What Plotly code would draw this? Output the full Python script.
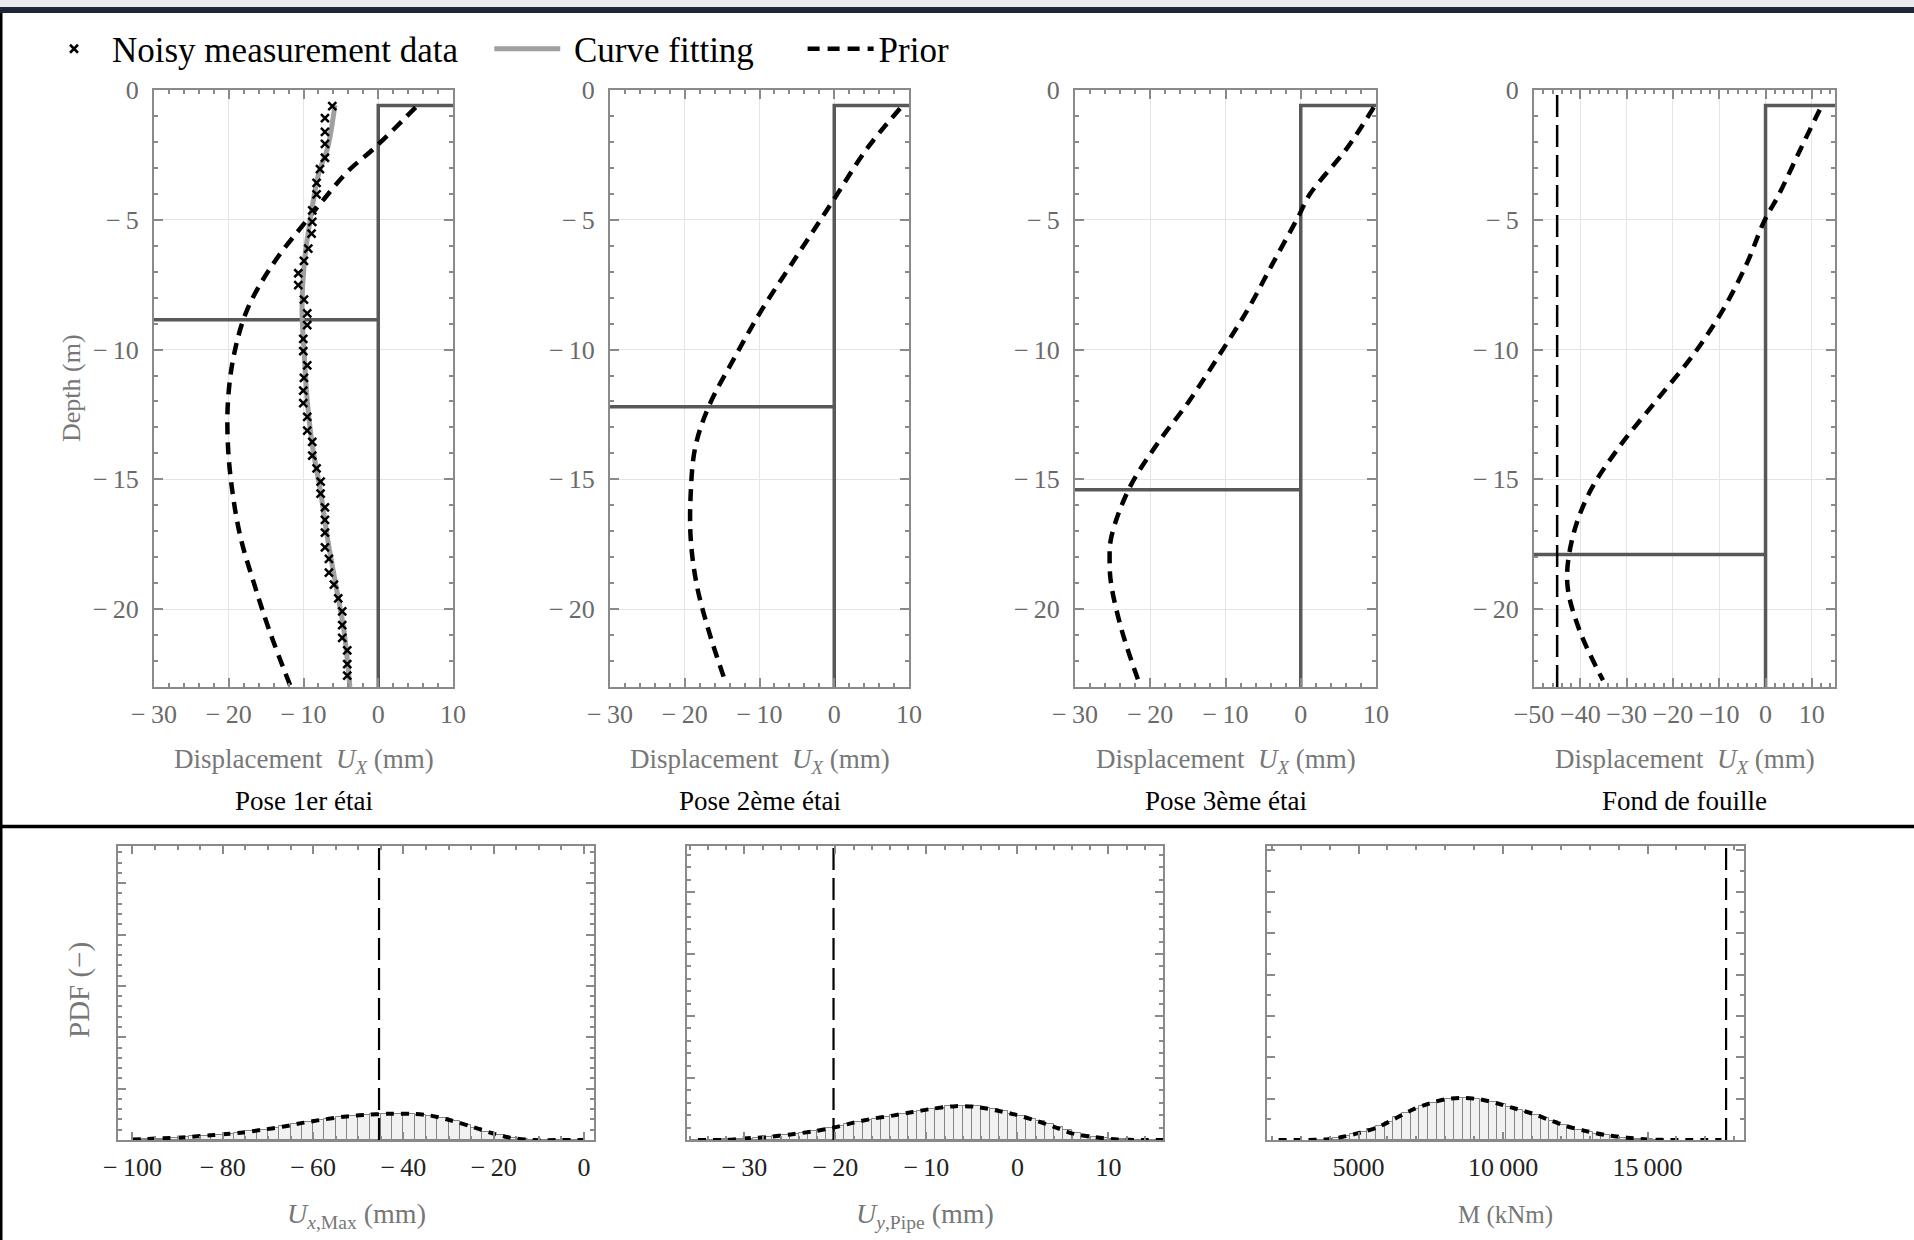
import plotly.graph_objects as go

W, H = 1914, 1240
FONT = "Liberation Serif"
TS = "\u2009"  # thin space between the minus sign and the digits (LaTeX style)
NB = "\u00a0"

# ---------------- data : top row (wall displacement profiles) ----------------
panel_titles = ["Pose 1er étai", "Pose 2ème étai", "Pose 3ème étai", "Fond de fouille"]
x_ranges = [[-30, 10], [-30, 10], [-30, 10], [-50, 15]]
depth_range = [-23, 0]
x_tickvals_top = [[-30, -20, -10, 0, 10], [-30, -20, -10, 0, 10],
                  [-30, -20, -10, 0, 10], [-50, -40, -30, -20, -10, 0, 10]]
x_ticktext_top = [["−" + TS + "30", "−" + TS + "20", "−" + TS + "10", "0", "10"]] * 3 + \
                 [["−50", "−40", "−30", "−20", "−10", "0", "10"]]
depth_tickvals = [0, -5, -10, -15, -20]
depth_ticktext = ["0", "−" + TS + "5", "−" + TS + "10", "−" + TS + "15", "−" + TS + "20"]
wall_top = -0.6
wall_bottom = -23.0
strut_depths = [-8.85, -12.2, -15.4, -17.9]
limit_top4 = -45.0

meas_ux = [-6.15, -7.13, -7.13, -7.13, -7.13, -7.80, -8.25, -8.25, -8.83, -8.83,
           -8.92, -9.36, -9.94, -10.70, -10.70, -9.94, -9.50, -9.50, -10.03, -10.03,
           -9.50, -9.94, -10.03, -10.03, -9.50, -9.50, -8.83, -8.83, -8.25, -7.71,
           -7.71, -7.13, -7.13, -7.13, -7.13, -6.60, -6.60, -5.93, -5.35, -4.82,
           -4.82, -4.82, -4.15, -4.15, -4.15]
meas_z = [-0.62, -1.08, -1.61, -2.08, -2.61, -3.05, -3.58, -4.02, -4.64, -5.08,
          -5.53, -6.11, -6.58, -7.06, -7.52, -8.08, -8.61, -9.06, -9.59, -10.06,
          -10.61, -11.09, -11.58, -12.06, -12.59, -13.12, -13.56, -14.09, -14.58, -15.09,
          -15.55, -16.08, -16.56, -17.05, -17.62, -18.06, -18.59, -19.06, -19.59, -20.09,
          -20.62, -21.11, -21.59, -22.12, -22.56]

fit1_ux = [-5.8, -6.8, -7.9, -9.05, -9.9, -10.2, -9.9, -9.5, -8.8, -7.7, -6.8, -5.7, -4.6, -3.8]
fit1_z = [-0.58, -2.26, -3.14, -4.9, -6.67, -8.44, -10.2, -11.97, -13.73, -15.5, -17.26, -19.03, -20.8, -23.0]

prior1_ux = [5.0, -0.6, -4.1, -7.5, -9.5, -14.0, -17.5, -19.3, -20.1, -20.1, -19.5, -18.4, -16.6, -14.6, -11.7]
prior1_z = [-0.67, -2.26, -3.14, -4.29, -5.0, -6.67, -8.44, -10.2, -11.97, -13.73, -15.5, -17.26, -19.03, -20.8, -23.0]

prior2_ux = [8.8, 4.3, 0.3, -1.9, -5.7, -9.7, -13.2, -16.8, -18.6, -19.2, -19.2, -18.4, -16.8, -14.8]
prior2_z = [-0.71, -2.29, -4.06, -5.03, -6.7, -8.47, -10.24, -12.2, -13.77, -15.53, -17.3, -19.06, -20.83, -22.6]

prior3_ux = [9.7, 6.1, 1.2, -0.36, -3.7, -7.0, -10.8, -14.8, -19.3, -22.9, -25.2, -25.4, -25.2, -23.8, -21.6]
prior3_z = [-0.67, -2.26, -4.02, -4.9, -6.67, -8.44, -10.2, -11.97, -13.73, -15.41, -17.26, -18.15, -19.03, -20.8, -22.74]

prior4_ux = [11.7, 7.6, 2.9, -0.36, -4.0, -9.1, -15.6, -23.6, -31.5, -38.0, -41.7, -42.8, -40.2, -35.1]
prior4_z = [-0.76, -2.26, -4.02, -5.08, -6.67, -8.44, -10.2, -11.97, -13.73, -15.5, -17.26, -19.03, -20.8, -22.74]

priors_ux = [prior1_ux, prior2_ux, prior3_ux, prior4_ux]
priors_z = [prior1_z, prior2_z, prior3_z, prior4_z]

# ---------------- data : bottom row (PDF histograms) ----------------
b_titles = ["<i>U</i><sub><i>x</i>,Max</sub> (mm)", "<i>U</i><sub><i>y</i>,Pipe</sub> (mm)", "M (kNm)"]
b_title_sizes = [28, 28, 25]
b_ranges = [[-103.2, 2.2], [-36.3, 16.0], [1830, 18340]]
b_limits = [-45.4, -20.2, 17720]
b_tickvals = [[-100, -80, -60, -40, -20, 0], [-30, -20, -10, 0, 10], [5000, 10000, 15000]]
b_ticktext = [["−" + TS + "100", "−" + TS + "80", "−" + TS + "60", "−" + TS + "40", "−" + TS + "20", "0"],
              ["−" + TS + "30", "−" + TS + "20", "−" + TS + "10", "0", "10"],
              ["5000", "10" + TS + "000", "15" + TS + "000"]]

# histogram 1 : U_x,Max, bins of 2.5 mm
h1_x = [-98.75, -96.25, -93.75, -91.25, -88.75, -86.25, -83.75, -81.25, -78.75, -76.25,
        -73.75, -71.25, -68.75, -66.25, -63.75, -61.25, -58.75, -56.25, -53.75, -51.25,
        -48.75, -46.25, -43.75, -41.25, -38.75, -36.25, -33.75, -31.25, -28.75, -26.25,
        -23.75, -21.25, -18.75, -16.25, -13.75, -11.25, -8.75, -6.25, -3.75, -1.25]
h1_y = [0.002, 0.004, 0.005, 0.007, 0.009, 0.012, 0.015, 0.018, 0.021, 0.025,
        0.029, 0.035, 0.040, 0.046, 0.053, 0.060, 0.067, 0.072, 0.078, 0.082,
        0.085, 0.087, 0.089, 0.090, 0.089, 0.086, 0.082, 0.074, 0.063, 0.052,
        0.040, 0.027, 0.017, 0.008, 0.004, 0.001, 0.0, 0.0, 0.0, 0.0]
pdf1_x = [-100, -90, -82, -76, -71.6, -66.8, -62, -57.6, -53.2, -48.8, -43.6, -38.3,
          -34, -29.6, -25.2, -20.8, -16.4, -11.2, -5, 0]
pdf1_y = [0.002, 0.008, 0.017, 0.025, 0.034, 0.045, 0.059, 0.070, 0.079, 0.085, 0.089, 0.089,
          0.083, 0.067, 0.047, 0.025, 0.008, 0.0, 0.0, 0.0]

# histogram 2 : U_y,Pipe, bins of 1 mm
h2_x = [-35.5, -34.5, -33.5, -32.5, -31.5, -30.5, -29.5, -28.5, -27.5, -26.5,
        -25.5, -24.5, -23.5, -22.5, -21.5, -20.5, -19.5, -18.5, -17.5, -16.5,
        -15.5, -14.5, -13.5, -12.5, -11.5, -10.5, -9.5, -8.5, -7.5, -6.5,
        -5.5, -4.5, -3.5, -2.5, -1.5, -0.5, 0.5, 1.5, 2.5, 3.5,
        4.5, 5.5, 6.5, 7.5, 8.5, 9.5, 10.5, 11.5, 12.5, 13.5, 14.5, 15.5]
h2_y = [0.0, 0.001, 0.001, 0.002, 0.003, 0.004, 0.005, 0.007, 0.009, 0.012,
        0.016, 0.020, 0.024, 0.029, 0.034, 0.040, 0.047, 0.054, 0.060, 0.067,
        0.073, 0.079, 0.085, 0.090, 0.095, 0.100, 0.105, 0.110, 0.114, 0.116,
        0.116, 0.114, 0.110, 0.104, 0.097, 0.090, 0.082, 0.073, 0.063, 0.053,
        0.044, 0.033, 0.024, 0.016, 0.010, 0.006, 0.003, 0.002, 0.001, 0.0, 0.0, 0.0]
pdf2_x = [-35.1, -32.3, -30.1, -27.5, -24.9, -22.3, -20.2, -18.0, -15.8, -13.7, -11.5,
          -9.4, -6.8, -4.6, -2.4, -0.3, 1.9, 4.1, 6.2, 8.4, 11.0, 13.8, 16.0]
pdf2_y = [0.0, 0.0, 0.005, 0.010, 0.019, 0.030, 0.042, 0.059, 0.073, 0.083, 0.095,
          0.106, 0.115, 0.113, 0.101, 0.087, 0.067, 0.044, 0.021, 0.010, 0.002, 0.0, 0.0]

# histogram 3 : bending moment M, bins of 300 kNm
h3_x = [3650, 3950, 4250, 4550, 4850, 5150, 5450, 5750, 6050, 6350,
        6650, 6950, 7250, 7550, 7850, 8150, 8450, 8750, 9050, 9350,
        9650, 9950, 10250, 10550, 10850, 11150, 11450, 11750, 12050, 12350,
        12650, 12950, 13250, 13550, 13850, 14150, 14450, 14750, 15050, 15350]
h3_y = [0.001, 0.003, 0.006, 0.012, 0.019, 0.027, 0.037, 0.048, 0.062, 0.077,
        0.092, 0.106, 0.117, 0.127, 0.135, 0.140, 0.143, 0.142, 0.140, 0.135,
        0.128, 0.121, 0.112, 0.103, 0.094, 0.085, 0.074, 0.063, 0.052, 0.043,
        0.035, 0.028, 0.022, 0.017, 0.012, 0.008, 0.005, 0.003, 0.002, 0.001]
pdf3_x = [2230, 3125, 3870, 4460, 5060, 5655, 6250, 6845, 7440, 8036, 8631, 9226, 9821,
          10417, 11012, 11607, 12202, 12798, 13542, 14286, 15030, 15774, 17560]
pdf3_y = [0.0, 0.0, 0.002, 0.011, 0.025, 0.043, 0.072, 0.102, 0.124, 0.139, 0.143, 0.138, 0.124,
          0.107, 0.090, 0.068, 0.047, 0.032, 0.017, 0.008, 0.002, 0.0, 0.0]

hist_x = [h1_x, h2_x, h3_x]
hist_y = [h1_y, h2_y, h3_y]
bin_widths = [2.5, 1.0, 300]
pdf_x = [pdf1_x, pdf2_x, pdf3_x]
pdf_y = [pdf1_y, pdf2_y, pdf3_y]
pdf_range = [0, 1]

# ---------------- layout geometry (pixels) ----------------
def fx(p):
    return p / W


def fy(p):
    return 1 - p / H


top_px_x = [(154, 453), (610, 909), (1075, 1376), (1534, 1835)]
top_px_y = (90, 687)
bot_px_x = [(118, 594), (687, 1163), (1267, 1744)]
bot_px_y = (846, 1140)
bot_major_frac = [0.1747, 0.2108, 0.1407]
bot_minor_div = [5, 5, 2]
bot_minor_x = [5, 2, 1000]

WALL = "#585858"
AX = "#8a8a8a"
GRID = "#e4e4e4"

fig = go.Figure()

# ---- top row traces ----
for i in range(4):
    xa = "x" if i == 0 else f"x{i + 1}"
    ya = "y" if i == 0 else f"y{i + 1}"
    xmin, xmax = x_ranges[i]
    fig.add_trace(go.Scatter(x=[0, 0, xmax], y=[wall_bottom, wall_top, wall_top], mode="lines",
                             line=dict(color=WALL, width=3.5), xaxis=xa, yaxis=ya,
                             showlegend=False, hoverinfo="skip"))
    fig.add_trace(go.Scatter(x=[xmin, 0], y=[strut_depths[i], strut_depths[i]], mode="lines",
                             line=dict(color=WALL, width=3.5), xaxis=xa, yaxis=ya,
                             showlegend=False, hoverinfo="skip"))
    if i == 3:
        fig.add_trace(go.Scatter(x=[limit_top4, limit_top4], y=depth_range, mode="lines",
                                 line=dict(color="black", width=2.5, dash="22px,8px"),
                                 xaxis=xa, yaxis=ya, showlegend=False, hoverinfo="skip"))
    fig.add_trace(go.Scatter(x=priors_ux[i], y=priors_z[i], mode="lines", name="Prior",
                             line=dict(color="black", width=4.5, dash="12px,8px", shape="spline",
                                       smoothing=1.0),
                             xaxis=xa, yaxis=ya, showlegend=(i == 0), legendrank=3))
    if i == 0:
        fig.add_trace(go.Scatter(x=fit1_ux, y=fit1_z, mode="lines",
                                 name=NB + "Curve fitting" + NB * 5,
                                 line=dict(color="#a0a0a0", width=5, shape="spline", smoothing=1.0),
                                 xaxis=xa, yaxis=ya, legendrank=2))
        fig.add_trace(go.Scatter(x=meas_ux, y=meas_z, mode="markers",
                                 name="Noisy measurement data" + NB * 3,
                                 marker=dict(symbol="x-thin", size=8, color="black",
                                             line=dict(width=2.5, color="black")),
                                 xaxis=xa, yaxis=ya, legendrank=1))

# ---- bottom row traces ----
for j in range(3):
    k = j + 5
    xa, ya = f"x{k}", f"y{k}"
    fig.add_trace(go.Bar(x=hist_x[j], y=hist_y[j], width=bin_widths[j],
                         marker=dict(color="#f1f1f1", line=dict(color="#858585", width=1)),
                         xaxis=xa, yaxis=ya, showlegend=False, hoverinfo="skip"))
    fig.add_trace(go.Scatter(x=pdf_x[j], y=pdf_y[j], mode="lines",
                             line=dict(color="black", width=4, dash="8px,7px", shape="spline",
                                       smoothing=0.8),
                             xaxis=xa, yaxis=ya, showlegend=False, hoverinfo="skip"))
    fig.add_trace(go.Scatter(x=[b_limits[j], b_limits[j]], y=pdf_range, mode="lines",
                             line=dict(color="black", width=2.2, dash="22px,8px"),
                             xaxis=xa, yaxis=ya, showlegend=False, hoverinfo="skip"))

# ---- axes ----
layout = dict(
    width=W, height=H, margin=dict(l=0, r=0, t=0, b=0, pad=0, autoexpand=False),
    paper_bgcolor="white", plot_bgcolor="white",
    font=dict(family=FONT, color="#333"),
    bargap=0,
    legend=dict(orientation="h", x=fx(36), y=fy(49), xanchor="left", yanchor="middle",
                font=dict(family=FONT, size=35, color="black"), bgcolor="rgba(0,0,0,0)",
                itemwidth=66, traceorder="normal"),
)

for i in range(4):
    sx = "xaxis" if i == 0 else f"xaxis{i + 1}"
    sy = "yaxis" if i == 0 else f"yaxis{i + 1}"
    xa = "x" if i == 0 else f"x{i + 1}"
    ya = "y" if i == 0 else f"y{i + 1}"
    l, r = top_px_x[i]
    layout[sx] = dict(domain=[fx(l), fx(r)], range=x_ranges[i], anchor=ya, automargin=False,
                      tickmode="array", tickvals=x_tickvals_top[i], ticktext=x_ticktext_top[i],
                      tickangle=0,
                      showline=True, linecolor=AX, linewidth=2, mirror="ticks",
                      ticks="inside", ticklen=9, tickwidth=1.5, tickcolor=AX,
                      minor=dict(ticks="inside", ticklen=4, tickcolor=AX, tickmode="linear",
                                 tick0=0, dtick=2, showgrid=False),
                      showgrid=True, gridcolor=GRID, gridwidth=1, zeroline=False,
                      ticklabelstandoff=3,
                      tickfont=dict(family=FONT, size=26, color="#6a6a6a"))
    layout[sy] = dict(domain=[fy(top_px_y[1]), fy(top_px_y[0])], range=depth_range, anchor=xa,
                      automargin=False, tickangle=0,
                      tickmode="array", tickvals=depth_tickvals, ticktext=depth_ticktext,
                      showline=True, linecolor=AX, linewidth=2, mirror="ticks",
                      ticks="inside", ticklen=9, tickwidth=1.5, tickcolor=AX,
                      minor=dict(ticks="inside", ticklen=4, tickcolor=AX, tickmode="linear",
                                 tick0=0, dtick=1, showgrid=False),
                      showgrid=True, gridcolor=GRID, gridwidth=1, zeroline=False,
                      ticklabelstandoff=8,
                      tickfont=dict(family=FONT, size=26, color="#6a6a6a"))

for j in range(3):
    k = j + 5
    l, r = bot_px_x[j]
    step = bot_major_frac[j]
    layout[f"xaxis{k}"] = dict(domain=[fx(l), fx(r)], range=b_ranges[j], anchor=f"y{k}",
                               automargin=False, tickangle=0,
                               tickmode="array", tickvals=b_tickvals[j], ticktext=b_ticktext[j],
                               showline=True, linecolor=AX, linewidth=2, mirror="ticks",
                               ticks="inside", ticklen=8, tickwidth=1.5, tickcolor=AX,
                               minor=dict(ticks="inside", ticklen=4, tickcolor=AX, tickmode="linear",
                                          tick0=0, dtick=bot_minor_x[j], showgrid=False),
                               showgrid=False, zeroline=False, ticklabelstandoff=3,
                               tickfont=dict(family=FONT, size=26, color="#222"))
    layout[f"yaxis{k}"] = dict(domain=[fy(bot_px_y[1]), fy(bot_px_y[0])], range=pdf_range,
                               anchor=f"x{k}", automargin=False,
                               tick0=0, dtick=step, showticklabels=False,
                               showline=True, linecolor=AX, linewidth=2, mirror="ticks",
                               ticks="inside", ticklen=8, tickwidth=1.5, tickcolor=AX,
                               minor=dict(ticks="inside", ticklen=4, tickcolor=AX, tick0=0,
                                          dtick=step / bot_minor_div[j], showgrid=False),
                               showgrid=False, zeroline=False)

fig.update_layout(**layout)

# ---- text annotations ----
def note(x, y, text, size, color, angle=0):
    return dict(x=fx(x), y=fy(y), xref="paper", yref="paper", showarrow=False,
                xanchor="center", yanchor="middle", text=text, textangle=angle,
                font=dict(family=FONT, size=size, color=color))


ann = []
for i in range(4):
    l, r = top_px_x[i]
    ann.append(note((l + r) / 2, 761, "Displacement" + NB + NB + "<i>U</i><sub><i>X</i></sub> (mm)",
                    27, "#777"))
    ann.append(note((l + r) / 2, 801, panel_titles[i], 27, "black"))
ann.append(note(71, 388, "Depth (m)", 26, "#777", -90))
for j in range(3):
    l, r = bot_px_x[j]
    ann.append(note((l + r) / 2, 1215, b_titles[j], b_title_sizes[j], "#777"))
ann.append(note(79, 990, "PDF (−)", 29, "#777", -90))
fig.update_layout(annotations=ann)

# ---- frame decorations ----
shapes = [
    dict(type="rect", xref="paper", yref="paper", x0=0, x1=1, y0=fy(7), y1=1,
         fillcolor="#e8eaed", line=dict(width=0), layer="below"),
    dict(type="rect", xref="paper", yref="paper", x0=0, x1=1, y0=fy(13), y1=fy(7),
         fillcolor="#1e2738", line=dict(width=0), layer="below"),
    dict(type="line", xref="paper", yref="paper", x0=fx(1), x1=fx(1), y0=0, y1=fy(13),
         line=dict(color="black", width=3)),
    dict(type="line", xref="paper", yref="paper", x0=0, x1=1, y0=fy(826.5), y1=fy(826.5),
         line=dict(color="black", width=3.5)),
]
fig.update_layout(shapes=shapes)

fig.write_html("out.html",
               post_script="document.body.style.margin='0px';document.body.style.padding='0px';"
                           "document.documentElement.style.overflow='hidden';")
